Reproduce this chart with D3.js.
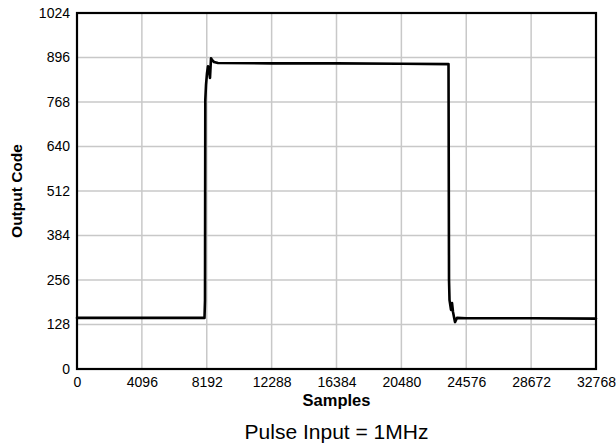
<!DOCTYPE html>
<html>
<head>
<meta charset="utf-8">
<script src="https://cdn.jsdelivr.net/npm/d3@7"></script>
<style>
  html, body { margin: 0; padding: 0; background: #fff; }
  svg { display: block; }
  text { font-family: Arial, "Liberation Sans", sans-serif; fill: #000; }
</style>
</head>
<body>
<svg id="chart" width="616" height="447"></svg>
<script>
// ---- data ----
const xTicks = [0, 4096, 8192, 12288, 16384, 20480, 24576, 28672, 32768];
const yTicks = [0, 128, 256, 384, 512, 640, 768, 896, 1024];
const samples = [0, 4096, 8050, 8082, 8100, 8145, 8208, 8271, 8334, 8397, 8461, 8524, 8650, 8900, 12288, 16384, 20480, 23456, 23488, 23520, 23614, 23677, 23740, 23866, 23992, 24576, 28672, 32768];
const codes   = [147, 147, 147, 198, 774, 817, 851, 871, 860, 837, 894, 889, 883, 880, 879, 879, 878, 877, 256, 198, 170, 190, 164, 135, 147, 146, 146, 145];
const xTitle = "Samples";
const yTitle = "Output Code";
const caption = "Pulse Input = 1MHz";

// ---- layout ----
const svg = d3.select("#chart");
const L = 77, R = 596, T = 13, B = 369;
const x = d3.scaleLinear().domain([0, 32768]).range([L, R]);
const y = d3.scaleLinear().domain([0, 1024]).range([B, T]);

// gridlines
svg.append("g").selectAll("line.vg").data(xTicks.slice(1, -1)).join("line")
  .attr("x1", d => x(d)).attr("x2", d => x(d)).attr("y1", T).attr("y2", B)
  .attr("stroke", "#c8c8c8").attr("stroke-width", 1.5);
svg.append("g").selectAll("line.hg").data(yTicks.slice(1, -1)).join("line")
  .attr("y1", d => y(d)).attr("y2", d => y(d)).attr("x1", L).attr("x2", R)
  .attr("stroke", "#c8c8c8").attr("stroke-width", 1.5);

// axes (labels only, via d3 axes)
const xAxis = svg.append("g").attr("transform", `translate(0,${B})`)
  .call(d3.axisBottom(x).tickValues(xTicks).tickSize(0).tickPadding(8).tickFormat(d3.format("d")));
const yAxis = svg.append("g").attr("transform", `translate(${L},0)`)
  .call(d3.axisLeft(y).tickValues(yTicks).tickSize(0).tickPadding(7).tickFormat(d3.format("d")));
[xAxis, yAxis].forEach(g => {
  g.select(".domain").remove();
  g.selectAll("text").attr("font-size", "14px").attr("font-family", "Arial, 'Liberation Sans', sans-serif").attr("fill", "#000");
});

// data line
const line = d3.line().x((d, i) => x(samples[i])).y((d, i) => y(codes[i]));
svg.append("path").datum(samples).attr("d", line)
  .attr("fill", "none").attr("stroke", "#000").attr("stroke-width", 2.6)
  .attr("stroke-linejoin", "round").attr("stroke-linecap", "round");

// frame
svg.append("rect").attr("x", L).attr("y", T).attr("width", R - L).attr("height", B - T)
  .attr("fill", "none").attr("stroke", "#000").attr("stroke-width", 2.2);

// titles
svg.append("text").attr("x", (L + R) / 2).attr("y", 406).attr("text-anchor", "middle")
  .attr("font-weight", "bold").attr("font-size", "16.5px").text(xTitle);
svg.append("text").attr("transform", `translate(22,${(T + B) / 2}) rotate(-90)`).attr("text-anchor", "middle")
  .attr("font-weight", "bold").attr("font-size", "15.5px").text(yTitle);
svg.append("text").attr("x", (L + R) / 2).attr("y", 439).attr("text-anchor", "middle")
  .attr("font-size", "21px").text(caption);
</script>
</body>
</html>
